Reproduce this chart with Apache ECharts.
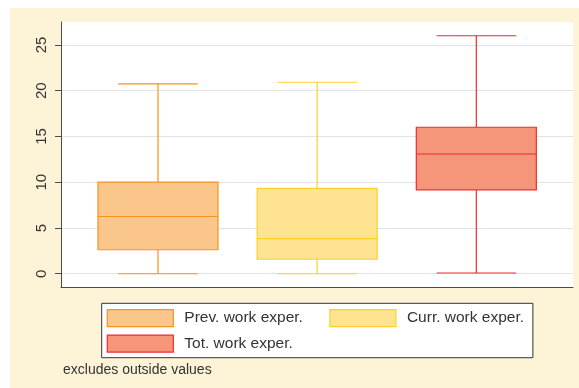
<!DOCTYPE html>
<html>
<head>
<meta charset="utf-8">
<script src="https://cdn.jsdelivr.net/npm/echarts@6/dist/echarts.min.js"></script>
<style>
    body { margin: 0; background: #fff; }
    #bg { position: absolute; left: 10px; top: 8px; width: 569px; height: 380px; background: #FDF3D7; }
    #main { position: absolute; left: 0; top: 0; width: 579px; height: 388px; }
</style>
</head>
<body>
<div id="bg"></div>
<div id="main"></div>
<script>
// 类别 / 图例名称
var names = ['Prev. work exper.', 'Curr. work exper.', 'Tot. work exper.'];
// 每个箱线: [下须, Q1, 中位数, Q3, 上须]
var prevStats = [0, 2.62, 6.25, 10, 20.75];
var currStats = [0, 1.58, 3.83, 9.33, 20.92];
var totStats = [0.08, 9.17, 13.08, 16, 26];
// y轴刻度
var yTicks = [0, 5, 10, 15, 20, 25];
var note = 'excludes outside values';

var fillColors = ['#FBC68A', '#FEE391', '#F5967A'];
var lineColors = ['#F7931E', '#FDD12A', '#EE2B2E'];
var font = '"Liberation Sans", Arial, sans-serif';

var chart = echarts.init(document.getElementById('main'));

function renderBox(params, api) {
    var i = api.value(0);
    var band = api.size([1, 0])[0];
    var halfBox = band * 0.377;
    var halfCap = band * 0.25;
    var x = api.coord([i, 0])[0];
    var yLo = api.coord([i, api.value(1)])[1];
    var yQ1 = api.coord([i, api.value(2)])[1];
    var yMed = api.coord([i, api.value(3)])[1];
    var yQ3 = api.coord([i, api.value(4)])[1];
    var yHi = api.coord([i, api.value(5)])[1];
    var stroke = lineColors[params.seriesIndex];
    var ls = { stroke: stroke, lineWidth: 1.2 };
    return {
        type: 'group',
        children: [
            { type: 'line', shape: { x1: x, y1: yQ3, x2: x, y2: yHi }, style: ls },
            { type: 'line', shape: { x1: x, y1: yQ1, x2: x, y2: yLo }, style: ls },
            { type: 'line', shape: { x1: x - halfCap, y1: yHi, x2: x + halfCap, y2: yHi }, style: ls },
            { type: 'line', shape: { x1: x - halfCap, y1: yLo, x2: x + halfCap, y2: yLo }, style: ls },
            { type: 'rect', shape: { x: x - halfBox, y: yQ3, width: halfBox * 2, height: yQ1 - yQ3 },
              style: { fill: fillColors[params.seriesIndex], stroke: stroke, lineWidth: 1.2 } },
            { type: 'line', shape: { x1: x - halfBox, y1: yMed, x2: x + halfBox, y2: yMed }, style: ls }
        ]
    };
}

var allStats = [prevStats, currStats, totStats];
var series = allStats.map(function (s, idx) {
    return {
        name: names[idx],
        type: 'custom',
        xAxisIndex: 1,
        yAxisIndex: 1,
        renderItem: renderBox,
        itemStyle: { color: fillColors[idx], borderColor: lineColors[idx] },
        encode: { x: 0, y: [1, 2, 3, 4, 5] },
        data: [[idx].concat(s)],
        clip: false
    };
});

function legendItem(idx) {
    return {
        name: names[idx],
        itemStyle: { color: fillColors[idx], borderColor: lineColors[idx], borderWidth: 1.2 }
    };
}

var legendBase = {
    orient: 'vertical',
    itemWidth: 66,
    itemHeight: 17,
    itemGap: 7.3,
    icon: 'rect',
    selectedMode: false,
    textStyle: { fontSize: 15.5, color: '#333', fontFamily: font, padding: [0, 0, 0, 6] }
};

var option = {
    animation: false,
    title: {
        text: note,
        left: 63,
        top: 363,
        padding: 0,
        textStyle: { fontSize: 14, fontWeight: 'normal', color: '#333', fontFamily: font }
    },
    legend: [
        // 左列, 带整个白色边框
        Object.assign({}, legendBase, {
            left: 101.7,
            top: 303.3,
            padding: [5.7, 230, 5, 5],
            backgroundColor: '#fff',
            borderColor: '#333',
            borderWidth: 1,
            borderRadius: 0,
            data: [legendItem(0), legendItem(2)]
        }),
        // 右列
        Object.assign({}, legendBase, {
            left: 329.3,
            top: 309,
            padding: 0,
            z: 6,
            data: [legendItem(1)]
        })
    ],
    grid: [
        { left: 61, top: 22, width: 512, height: 265, show: true, backgroundColor: '#fff', borderWidth: 0 },
        { left: 78.4, top: 22, width: 477.5, height: 265 }
    ],
    xAxis: [
        {
            gridIndex: 0, type: 'value', min: 0, max: 1,
            axisLine: { show: true, onZero: false, lineStyle: { color: '#4a4a4a', width: 1 } },
            axisTick: { show: false }, axisLabel: { show: false }, splitLine: { show: false }
        },
        {
            gridIndex: 1, type: 'category', data: names, show: false
        }
    ],
    yAxis: [
        {
            gridIndex: 0, type: 'value', min: -1.45, max: 27.5,
            axisLine: { show: true, onZero: false, lineStyle: { color: '#4a4a4a', width: 1 } },
            axisTick: { show: true, length: 6, customValues: yTicks, lineStyle: { color: '#4a4a4a' } },
            axisLabel: { customValues: yTicks, rotate: 90, margin: 12, fontSize: 15, color: '#333', fontFamily: font },
            splitLine: { show: true, lineStyle: { color: '#E2E2EC', width: 1.2 } }
        },
        {
            gridIndex: 1, type: 'value', min: -1.45, max: 27.5, show: false, splitLine: { show: false }
        }
    ],
    series: series
};

chart.setOption(option);
</script>
</body>
</html>
